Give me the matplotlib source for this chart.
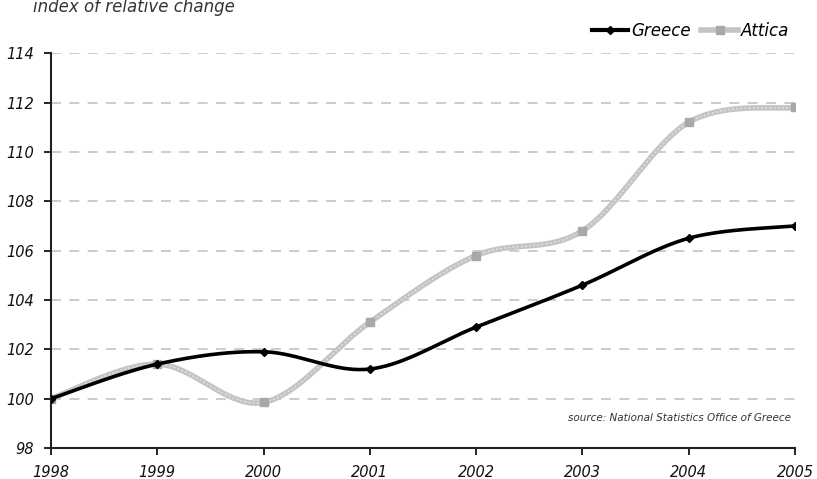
import matplotlib.pyplot as plt
import numpy as np

# index values (1998 = 100)
years = [1998, 1999, 2000, 2001, 2002, 2003, 2004, 2005]
greece = [100.0, 101.4, 101.9, 101.2, 102.9, 104.6, 106.5, 107.0]
attica = [100.0, 101.4, 99.85, 103.1, 105.8, 106.8, 111.2, 111.8]
y_ticks = [98, 100, 102, 104, 106, 108, 110, 112, 114]


# smoothed curve through the points (Catmull-Rom style, like spreadsheet smoothing)
def smooth(x, y, n=40):
    x = np.asarray(x, float)
    y = np.asarray(y, float)
    px = np.concatenate([[x[0]], x, [x[-1]]])
    py = np.concatenate([[y[0]], y, [y[-1]]])
    xs, ys = [], []
    t = np.linspace(0, 1, n)
    for i in range(1, len(px) - 2):
        p0, p1, p2, p3 = (np.array([px[j], py[j]]) for j in range(i - 1, i + 3))
        c1 = p1 + (p2 - p0) / 6
        c2 = p2 - (p3 - p1) / 6
        b = ((1 - t) ** 3)[:, None] * p1 + (3 * (1 - t) ** 2 * t)[:, None] * c1 \
            + (3 * (1 - t) * t ** 2)[:, None] * c2 + (t ** 3)[:, None] * p2
        xs.extend(b[:, 0])
        ys.extend(b[:, 1])
    return xs, ys


fig = plt.figure(figsize=(8.17, 4.79), dpi=100)
ax = fig.add_axes([0.0624, 0.0647, 0.9106, 0.8243])

tfont = dict(family='DejaVu Sans', style='italic', size=10.5, color='#111111')

# gridlines
for v in y_ticks[1:]:
    ax.axhline(v, color='#c4c4c4', lw=1.2, ls=(0, (6, 5)), zorder=0)

# Attica: light grey textured line
sx, sy = smooth(years, attica)
ax.plot(sx, sy, color='#c4c4c4', lw=4, zorder=2)
ax.plot(sx, sy, color='#e2e2e2', lw=1.2, ls=(0, (1, 1.5)), zorder=2)
ax.plot(years, attica, ls='none', marker='s', ms=6, color='#a8a8a8', zorder=3)

# Greece: black line
ax.plot(*smooth(years, greece), color='black', lw=2.6, zorder=4)
ax.plot(years, greece, ls='none', marker='D', ms=4, color='black', zorder=5)

ax.set_xlim(1998, 2005)
ax.set_ylim(98, 114)
ax.set_xticks(years)
ax.set_yticks(y_ticks)
ax.set_xticklabels([str(y) for y in years], fontdict=tfont)
ax.set_yticklabels([str(v) for v in y_ticks], fontdict=tfont)
ax.tick_params(axis='y', direction='out', length=5, width=1.2, pad=7)
ax.tick_params(axis='x', direction='out', length=5, width=1.2, pad=7)
for s in ['top', 'right']:
    ax.spines[s].set_visible(False)
for s in ['left', 'bottom']:
    ax.spines[s].set_linewidth(1.5)
    ax.spines[s].set_color('#222222')

ax.text(0.995, 0.077, 'source: National Statistics Office of Greece', transform=ax.transAxes,
        ha='right', va='center', fontsize=7.5, style='italic', color='#333333')

# heading (runs off the top edge)
fig.text(0.04, 0.985, 'index of relative change', ha='left', va='center',
         fontsize=12, style='italic', color='#333333')

# legend
handles = [plt.Line2D([], [], color='black', lw=3, marker='D', ms=4),
           plt.Line2D([], [], color='#c4c4c4', lw=4, marker='s', ms=6, mfc='#a8a8a8', mec='#a8a8a8')]
leg = fig.legend(handles, ['Greece', 'Attica'], loc='upper right', bbox_to_anchor=(0.985, 0.985),
                 ncol=2, frameon=False, handlelength=2.2, handletextpad=0.2, columnspacing=0.6,
                 prop=dict(family='DejaVu Sans', style='italic', size=12))

fig.savefig('out.png', dpi=100)
